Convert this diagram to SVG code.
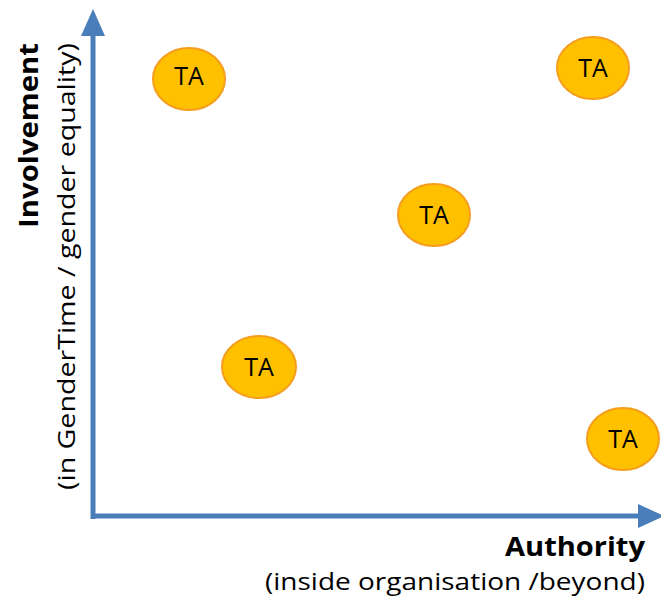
<svg xmlns="http://www.w3.org/2000/svg" width="661" height="601" viewBox="0 0 661 601">
<style>
.ax{stroke:#4A7EBB;stroke-width:5;fill:none}
.ah{fill:#4A7EBB}
.ta ellipse{fill:#FFC000;stroke:#F59D1E;stroke-width:2}
.ta text{font-family:"Open Sans","Liberation Sans",Arial,sans-serif;font-size:25px;fill:#000;text-anchor:middle}
.lb{font-family:"Open Sans","Liberation Sans",sans-serif;fill:#000}
</style>
<rect width="661" height="601" fill="#fff"/>
<g id="connectors">
<line class="ax" x1="93" y1="519" x2="93" y2="30"/>
<polygon class="ah" points="93,9 105,36 81,36"/>
<line class="ax" x1="91" y1="516" x2="642" y2="516"/>
<polygon class="ah" points="664,516 638,504 638,528"/>
</g>
<g id="ta1" class="ta"><ellipse cx="189" cy="79" rx="36" ry="31"/><text x="189" y="85">TA</text></g>
<g id="ta2" class="ta"><ellipse cx="593" cy="68" rx="36" ry="31"/><text x="593" y="77">TA</text></g>
<g id="ta3" class="ta"><ellipse cx="434" cy="215" rx="36" ry="31"/><text x="434" y="224">TA</text></g>
<g id="ta4" class="ta"><ellipse cx="259" cy="367" rx="37" ry="31"/><text x="259" y="376">TA</text></g>
<g id="ta5" class="ta"><ellipse cx="623" cy="439" rx="36" ry="31"/><text x="623" y="448">TA</text></g>
<g id="labels">
<text class="lb" x="645" y="556" font-size="27" font-weight="bold" text-anchor="end" textLength="140" lengthAdjust="spacingAndGlyphs">Authority</text>
<text class="lb" x="645" y="590" font-size="23" text-anchor="end" textLength="380" lengthAdjust="spacingAndGlyphs">(inside organisation /beyond)</text>
<text class="lb" transform="translate(38,228) rotate(-90)" x="0" y="0" font-size="27" font-weight="bold" textLength="185" lengthAdjust="spacingAndGlyphs">Involvement</text>
<text class="lb" transform="translate(75,490) rotate(-90)" x="0" y="0" font-size="23" textLength="447" lengthAdjust="spacingAndGlyphs">(in GenderTime / gender equality)</text>
</g>
</svg>
